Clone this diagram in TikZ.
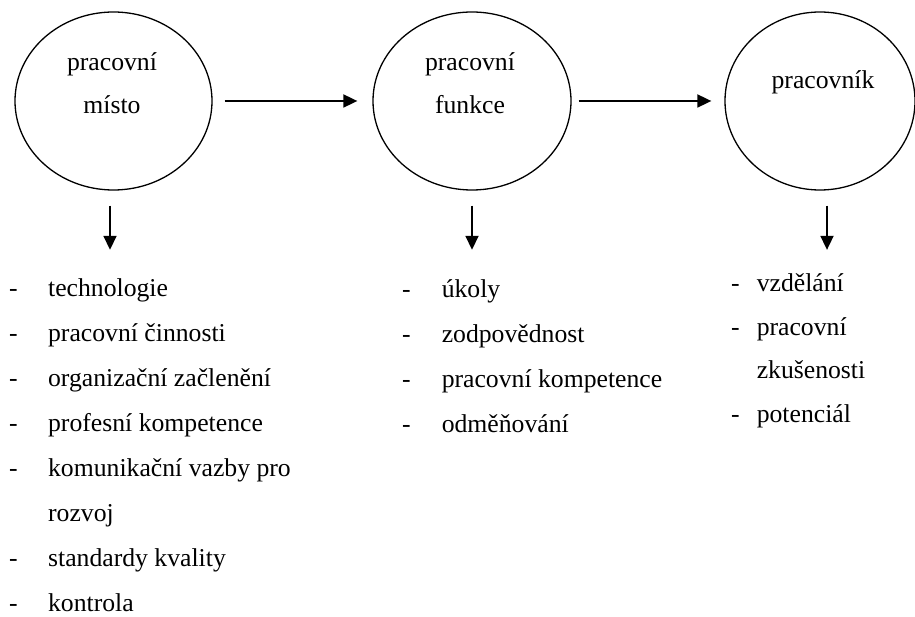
\documentclass[tikz,border=0pt]{standalone}
\usepackage{fontspec}
\setmainfont{Liberation Serif}
\usetikzlibrary{positioning}
\usetikzlibrary{calc}
\usetikzlibrary{shapes.geometric}
\usetikzlibrary{arrows.meta}
\newcommand{\drawcolor}{black}
\newcommand{\bgcolor}{white}
\tikzstyle{stage}=[\drawcolor, draw, ellipse, line width=1.3pt, inner sep=0pt, minimum height=178pt]
\tikzstyle{stagetext}=[\drawcolor, anchor=base, inner sep=0pt, font=\fontsize{25.7}{43}\selectfont]
\tikzstyle{itemlist}=[\drawcolor, anchor=base west, inner sep=0pt]
\tikzstyle{flow}=[\drawcolor, -{Triangle[length=14pt, width=13pt]}, line width=1.8pt]

\begin{document}
\begin{tikzpicture}[x=1pt, y=-1pt, font=\fontsize{25.7}{45}\selectfont]
    \useasboundingbox (0, 0) rectangle (915, 617);

    \node[stage, minimum width=197pt] at (113.5, 101) (place) {};
    \node[stage, minimum width=198pt] at (472, 101) (function) {};
    \node[stage, minimum width=190pt] at (820, 101) (worker) {};

    \node[stagetext] at ($(place) + (-1.5, -30)$) (placeText) {\begin{tabular}[t]{@{}c@{}}pracovní\\místo\end{tabular}};
    \node[stagetext] at ($(function) + (-2.0, -30)$) (functionText) {\begin{tabular}[t]{@{}c@{}}pracovní\\funkce\end{tabular}};
    \node[stagetext] at ($(worker) + (3.0, -12)$) (workerText) {pracovník};

    % Lists
    \node[itemlist] at (9, 297) (placeItems) {\begin{tabular}[t]{@{}l@{\hspace{30.4pt}}l@{}}
        - & technologie\\
        - & pracovní činnosti\\
        - & organizační začlenění\\
        - & profesní kompetence\\
        - & komunikační vazby pro\\
          & rozvoj\\
        - & standardy kvality\\
        - & kontrola
    \end{tabular}};

    \node[itemlist] at (402, 298) (functionItems) {\begin{tabular}[t]{@{}l@{\hspace{31pt}}l@{}}
        - & úkoly\\
        - & zodpovědnost\\
        - & pracovní kompetence\\
        - & odměňování
    \end{tabular}};

    \node[itemlist, font=\fontsize{25.7}{43.5}\selectfont] at (731, 292) (workerItems) {\begin{tabular}[t]{@{}l@{\hspace{17pt}}l@{}}
        - & vzdělání\\
        - & pracovní\\
          & zkušenosti\\
        - & potenciál
    \end{tabular}};

    % Arrows
    \draw[flow, shorten <=12pt, shorten >=15pt] (place.east) -- (function.west);
    \draw[flow, shorten <=7pt, shorten >=13pt] (function.east) -- (worker.west);

    \draw[flow, shorten <=15pt, shorten >=15.5pt] ([xshift=-3.5pt]place.south) -- ([xshift=-3.5pt]place.south |- placeItems.north);
    \draw[flow, shorten <=15pt, shorten >=16.5pt] (function.south) -- (function.south |- functionItems.north);
    \draw[flow, shorten <=15pt, shorten >=11.5pt] ([xshift=7pt]worker.south) -- ([xshift=7pt]worker.south |- workerItems.north);

\end{tikzpicture}
\end{document}
